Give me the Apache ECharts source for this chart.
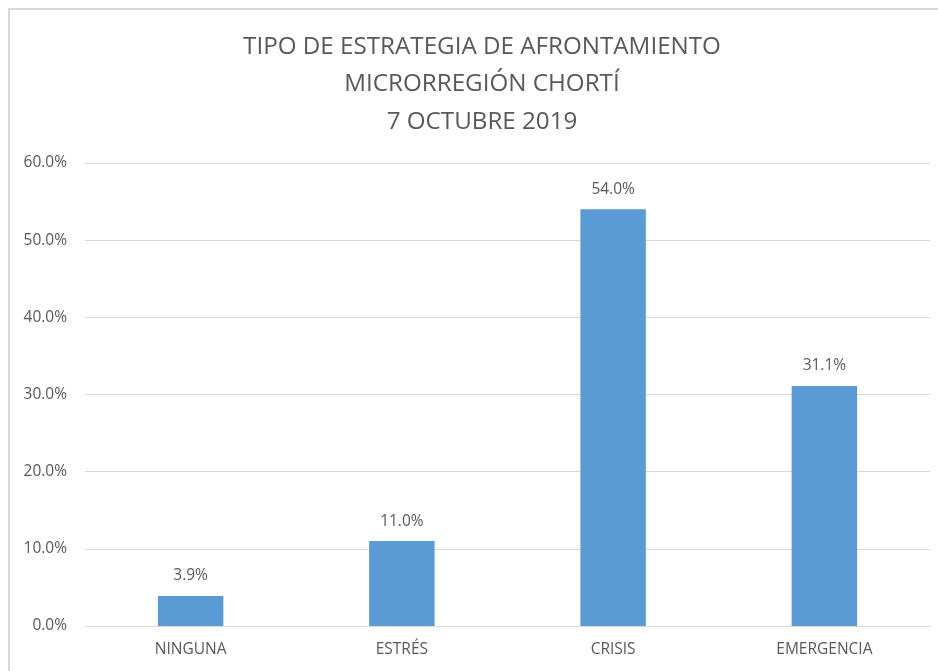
<!DOCTYPE html>
<html>
<head>
<meta charset="utf-8">
<script src="https://cdn.jsdelivr.net/npm/echarts@6/dist/echarts.min.js"></script>
<style>
	html, body { margin: 0; padding: 0; background: #fff; }
	#chart { width: 938px; height: 671px; }
</style>
</head>
<body>
<div id="chart"></div>
<script>
const categories = ['NINGUNA', 'ESTRÉS', 'CRISIS', 'EMERGENCIA'];
const percentages = [3.9, 11.0, 54.0, 31.1];
const titleLines = ['TIPO DE ESTRATEGIA DE AFRONTAMIENTO', 'MICRORREGIÓN CHORTÍ', '7 OCTUBRE 2019'];

const textColor = '#595959';
const fontFamily = '"Open Sans", sans-serif';

var chart = echarts.init(document.getElementById('chart'), null, { width: 938, height: 671 });

option = {
	backgroundColor: '#fff',
	animation: false,
	title: {
		text: titleLines.join('\n'),
		left: 477,
		top: 23,
		textAlign: 'center',
		textStyle: {
			color: textColor,
			fontFamily: fontFamily,
			fontSize: 24.2,
			fontWeight: 'normal',
			lineHeight: 37.5
		}
	},
	graphic: [{
		type: 'rect',
		shape: { x: 9, y: 9, width: 1000, height: 1000 },
		style: { fill: 'none', stroke: '#d9d9d9', lineWidth: 2 },
		silent: true
	}],
	grid: {
		left: 85,
		right: 8,
		top: 163,
		bottom: 45
	},
	xAxis: {
		type: 'category',
		data: categories,
		axisTick: { show: false },
		axisLine: { lineStyle: { color: '#d9d9d9', width: 1 } },
		axisLabel: {
			color: textColor,
			fontFamily: fontFamily,
			fontSize: 15.5,
			margin: 16
		}
	},
	yAxis: {
		type: 'value',
		min: 0,
		max: 60,
		interval: 10,
		axisLine: { show: false },
		axisTick: { show: false },
		splitLine: { lineStyle: { color: '#d9d9d9', width: 1 } },
		axisLabel: {
			color: textColor,
			fontFamily: fontFamily,
			fontSize: 15.5,
			margin: 18,
			formatter: function (v) { return v.toFixed(1) + '%'; }
		}
	},
	series: [{
		type: 'bar',
		data: percentages,
		barWidth: '31%',
		itemStyle: { color: '#5b9bd5' },
		label: {
			show: true,
			position: 'top',
			distance: 12,
			color: textColor,
			fontFamily: fontFamily,
			fontSize: 15.5,
			formatter: function (p) { return p.value.toFixed(1) + '%'; }
		}
	}]
};

chart.setOption(option);
</script>
</body>
</html>
